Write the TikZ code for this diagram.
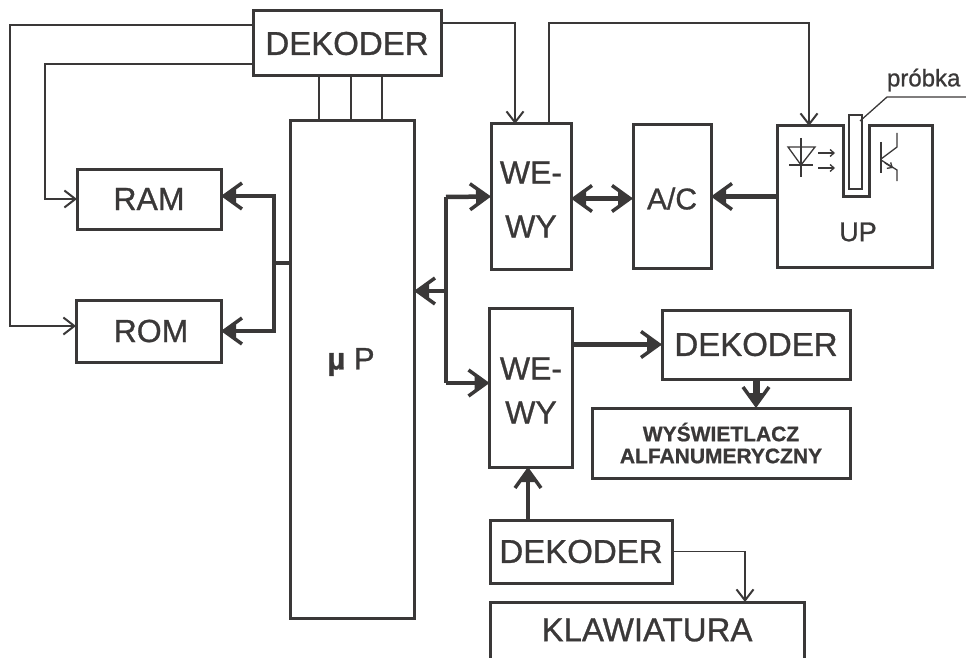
\documentclass[tikz,border=0pt]{standalone}
\usepackage{fontspec}
\setmainfont{Liberation Sans}[FakeBold=0.9]
\usepackage{xcolor}
\usetikzlibrary{arrows.meta,calc}
\definecolor{ink}{HTML}{3A3838}
\newcommand{\fsz}[1]{\fontsize{#1}{#1}\selectfont}
\tikzset{
	bigtip/.tip={Straight Barb[length=18pt,width=26pt,line width=3.5pt,sep=-15pt]Triangle[length=15pt,width=15pt,line width=0pt,fill=ink,sep=0pt]},
	box/.style={rectangle,draw=ink,line width=3pt,text=ink,inner sep=0pt,outer sep=0pt,align=center,font=\fsz{33}},
	plain/.style={text=ink,inner sep=0pt,outer sep=0pt,align=center},
	sig/.style={draw=ink,line width=1.4pt},
	sigto/.style={sig,-{Straight Barb[length=11pt,width=17pt,line width=2pt]}},
	bus/.style={draw=ink,line width=4.5pt},
	busto/.style={bus,-bigtip},
	busboth/.style={bus,bigtip-bigtip},
	part/.style={draw=ink,line width=1.3pt}
}
\begin{document}
\begin{tikzpicture}[x=1pt,y=-1pt]
	\useasboundingbox (0,0) rectangle (966,658);
	\node[box,minimum width=188pt,minimum height=65pt] (dektop) at (347,43.5) {DEKODER};
	\node[box,minimum width=124pt,minimum height=497pt] (cpu) at (352,369.5) {};
	\node[plain,font=\fsz{31}] (cpulabel) at (351,362) {\textbf{µ} P};
	\node[box,minimum width=144pt,minimum height=60pt,font=\fsz{32}] (ram) at (149,199) {RAM};
	\node[box,minimum width=145pt,minimum height=62pt,font=\fsz{32}] (rom) at (148.5,331) {\hspace{5pt}ROM};
	\node[box,minimum width=80pt,minimum height=145pt,font={\fontsize{32}{54}\selectfont}] (wewya) at (531,196.5) {\rule{0pt}{28pt}WE-\\WY};
	\node[box,minimum width=78pt,minimum height=143pt,font=\fsz{30}] (ac) at (672,196.5) {\rule{0pt}{26pt}A/C};
	\node[minimum width=155pt,minimum height=141pt,inner sep=0pt,outer sep=0pt] (up) at (855,196.5) {};
	\node[plain,font=\fsz{27}] (uplabel) at (858,232) {UP};
	\node[box,minimum width=83pt,minimum height=159pt,font={\fontsize{32}{44}\selectfont}] (wewyb) at (531,387.5) {\rule{0pt}{28pt}WE-\\WY};
	\node[box,minimum width=188pt,minimum height=69pt] (dekright) at (756,344.5) {DEKODER};
	\node[box,minimum width=258pt,minimum height=70pt,font={\fontsize{21}{22}\selectfont\bfseries}] (display) at (721,443) {WYŚWIETLACZ\\ALFANUMERYCZNY};
	\node[box,minimum width=182pt,minimum height=63pt] (dekbottom) at (581,551.5) {DEKODER};
	\node[plain,minimum width=314pt,minimum height=56pt,font=\fsz{33}] (keys) at (647,630) {KLAWIATURA};
	\node[plain,anchor=west,font=\fsz{24}] (sample) at (887,80) {próbka};
	\draw[draw=ink,line width=3pt] (keys.south west) -- (keys.north west) -- (keys.north east) -- (keys.south east);
	\draw[draw=ink,line width=3pt] (843,126) -- (up.north west) -- (up.south west) -- (up.south east) -- (up.north east) -- (869,126) -- (869,196) -- (843,196) -- cycle;
	\draw[part] (849,115) rectangle (862,189);
	\draw[part] (860,121) -- (887,97) -- (966,97);
	\draw[part] (801,138) -- (801,177);
	\draw[part] (788,147) -- (815,147) -- (801,165) -- cycle;
	\draw[part] (789,165) -- (813,165);
	\draw[part,-{Straight Barb[length=4pt,width=7pt]}] (818,153) -- (835,153);
	\draw[part,-{Straight Barb[length=4pt,width=7pt]}] (818,168) -- (835,168);
	\draw[draw=ink,line width=2.5pt] (881,142) -- (881,173);
	\draw[part] (881,159) -- (897,147) -- (897,133);
	\draw[part] (881,160) -- (897,170) -- (897,181);
	\draw[part,-{Straight Barb[length=4pt,width=7pt]}] (885,163) -- (893,168);
	\draw[sigto] ([yshift=18.5pt]dektop.west) -| (10,326) -- ([yshift=5pt]rom.west);
	\draw[sigto] ([yshift=-20.5pt]dektop.west) -| (45,199) -- (ram.west);
	\draw[sigto] ([yshift=20.5pt]dektop.east) -| ([xshift=-16pt]wewya.north);
	\draw[sigto] ([xshift=18pt]wewya.north) |- (549,23) -| ([xshift=-46pt]up.north);
	\draw[sig] ([xshift=-28pt]dektop.south) -- ([xshift=-33pt]cpu.north);
	\draw[sig] ([xshift=4pt]dektop.south) -- ([xshift=-1pt]cpu.north);
	\draw[sig] ([xshift=35pt]dektop.south) -- ([xshift=30pt]cpu.north);
	\draw[bus] ([yshift=106.5pt]cpu.west) -- (274,263);
	\draw[busto] (274,263) |- ([yshift=3pt]ram.east);
	\draw[busto] (274,263) |- (rom.east);
	\draw[bus] (446,197) -- (446,383);
	\draw[busto] (446,291) -- ([yshift=78.5pt]cpu.east);
	\draw[busto] (446,197) -- (wewya.west);
	\draw[busto] (446,383) -- ([yshift=4.5pt]wewyb.west);
	\draw[busboth] ([yshift=-2pt]wewya.east) -- ([yshift=-2pt]ac.west);
	\draw[busto] (up.west) -- (ac.east);
	\draw[busto] (wewyb.east |- dekright.west) -- (dekright.west);
	\draw[busto,line width=7pt] (dekright.south) -- (display.north -| dekright.south);
	\draw[busto] ([xshift=-53pt]dekbottom.north) -- ([xshift=-3pt]wewyb.south);
	\draw[sigto] (dekbottom.east) -| ([xshift=98pt]keys.north);
\end{tikzpicture}
\end{document}
